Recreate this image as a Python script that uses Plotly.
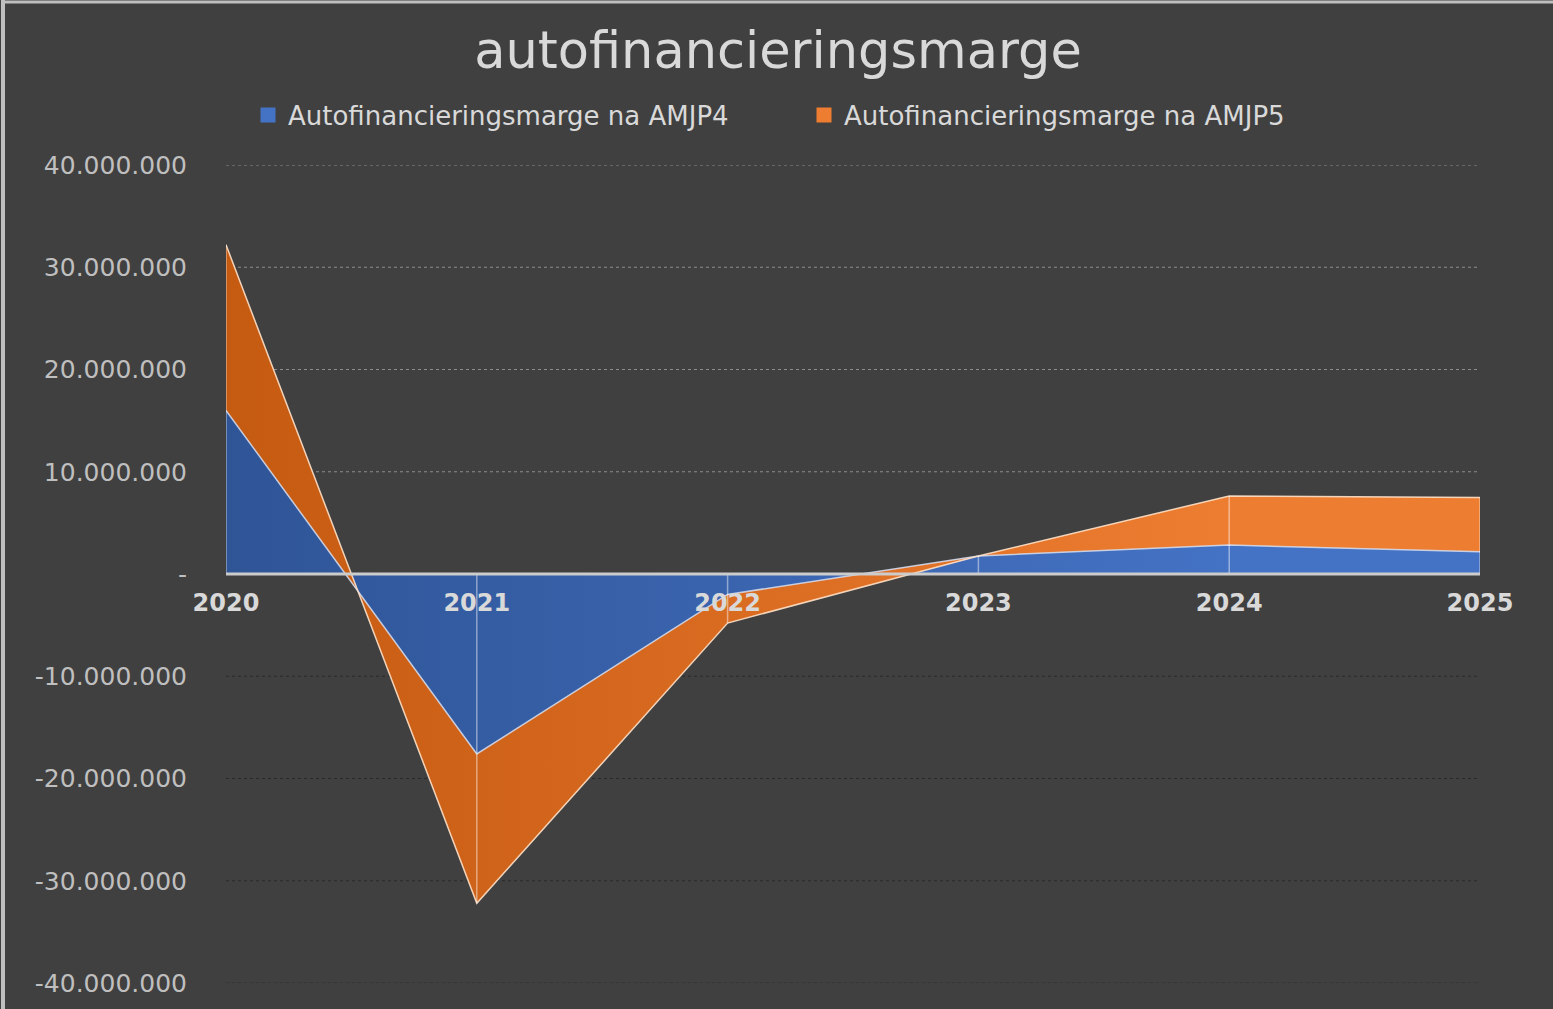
import plotly.graph_objects as go

# ---- data ----
years = ["2020", "2021", "2022", "2023", "2024", "2025"]
amjp4 = [16.0e6, -17.6e6, -2.0e6, 1.76e6, 2.83e6, 2.18e6]
amjp5 = [16.2e6, -14.6e6, -2.8e6, 0.0, 4.8e6, 5.3e6]
ytick_vals = [-40e6, -30e6, -20e6, -10e6, 0, 10e6, 20e6, 30e6, 40e6]
ytick_text = ["-40.000.000", "-30.000.000", "-20.000.000", "-10.000.000", "-",
              "10.000.000", "20.000.000", "30.000.000", "40.000.000"]
name4 = "Autofinancieringsmarge na AMJP4"
name5 = "Autofinancieringsmarge na AMJP5"

W, H = 1553, 1009
ML, MR, MT, MB = 226, 73, 165, 26
PW, PH = W - ML - MR, H - MT - MB

BG = "#404040"
xs = list(range(len(years)))

fig = go.Figure()
fig.add_trace(go.Scatter(
    x=xs, y=amjp4, stackgroup="s", mode="lines", name=name4, showlegend=False,
    line=dict(color="rgba(215,225,245,0.85)", width=1.5),
    fillgradient=dict(type="horizontal",
                      colorscale=[[0, "#2F5597"], [0.8, "#4472C4"], [1, "#4472C4"]]),
))
fig.add_trace(go.Scatter(
    x=xs, y=amjp5, stackgroup="s", mode="lines", name=name5, showlegend=False,
    line=dict(color="rgba(255,225,200,0.9)", width=1.5),
    fillgradient=dict(type="horizontal",
                      colorscale=[[0, "#C55A11"], [0.8, "#ED7D31"], [1, "#ED7D31"]]),
))

# drop lines from axis to stacked total
totals = [a + b for a, b in zip(amjp4, amjp5)]
dx, dy = [], []
for i, t in enumerate(totals):
    dx += [xs[i], xs[i], None]
    dy += [0, t, None]
fig.add_trace(go.Scatter(x=dx, y=dy, mode="lines", showlegend=False, hoverinfo="skip",
                         line=dict(color="rgba(255,255,255,0.45)", width=1.5)))

# legend entries (square markers)
fig.add_trace(go.Scatter(x=[None], y=[None], mode="markers", name=name4,
                         marker=dict(symbol="square", size=15, color="#4472C4")))
fig.add_trace(go.Scatter(x=[None], y=[None], mode="markers", name=name5,
                         marker=dict(symbol="square", size=15, color="#ED7D31")))

# gridlines
shapes = []
for v in ytick_vals:
    if v == 0:
        continue
    shapes.append(dict(type="line", xref="paper", yref="y", x0=0, x1=1, y0=v, y1=v,
                       layer="below",
                       line=dict(color="#8C8C8C" if v > 0 else "#2A2A2A", width=1.2, dash="dot")))
# zero line
shapes.append(dict(type="line", xref="paper", yref="y", x0=0, x1=1, y0=0, y1=0,
                   layer="above", line=dict(color="#CCCCCC", width=3)))
# outer frame (left & top)
shapes.append(dict(type="line", xref="paper", yref="paper",
                   x0=(3 - ML) / PW, x1=(3 - ML) / PW, y0=-MB / PH, y1=(PH + MT) / PH,
                   line=dict(color="#BFBFBF", width=4)))
shapes.append(dict(type="line", xref="paper", yref="paper",
                   x0=(3 - ML) / PW, x1=(W - ML) / PW, y0=(PH + MT - 2) / PH, y1=(PH + MT - 2) / PH,
                   line=dict(color="#BFBFBF", width=3)))

fig.update_layout(
    width=W, height=H,
    margin=dict(l=ML, r=MR, t=MT, b=MB),
    paper_bgcolor=BG, plot_bgcolor=BG,
    font=dict(family="DejaVu Sans", color="#D9D9D9"),
    title=dict(text="autofinancieringsmarge", x=778 / W, xref="container", xanchor="center",
               y=1 - 50 / H, yanchor="middle",
               font=dict(size=51, color="#D9D9D9", family="DejaVu Sans")),
    showlegend=True,
    legend=dict(orientation="h", x=(248 - ML) / PW, xanchor="left",
                y=(PH + MT - 115) / PH, yanchor="middle", traceorder="normal",
                font=dict(size=26, color="#D9D9D9"),
                entrywidth=511, entrywidthmode="pixels",
                bgcolor="rgba(0,0,0,0)"),
    shapes=shapes,
    xaxis=dict(range=[0, len(years) - 1], tickmode="array", tickvals=xs, ticktext=years,
               showgrid=False, zeroline=False, showline=False, ticks="",
               anchor="free", position=0.5, ticklabelstandoff=12,
               tickfont=dict(size=24, color="#D9D9D9", family="DejaVu Sans", weight="bold")),
    yaxis=dict(range=[-40e6, 40e6], tickmode="array", tickvals=ytick_vals, ticktext=ytick_text,
               showgrid=False, zeroline=False, showline=False, ticks="",
               ticklabelstandoff=38,
               tickfont=dict(size=25, color="#BFBFBF", family="DejaVu Sans")),
)

fig.write_html("out.html", config={"displayModeBar": False},
               post_script="document.body.style.margin='0';document.body.style.overflow='hidden';")
